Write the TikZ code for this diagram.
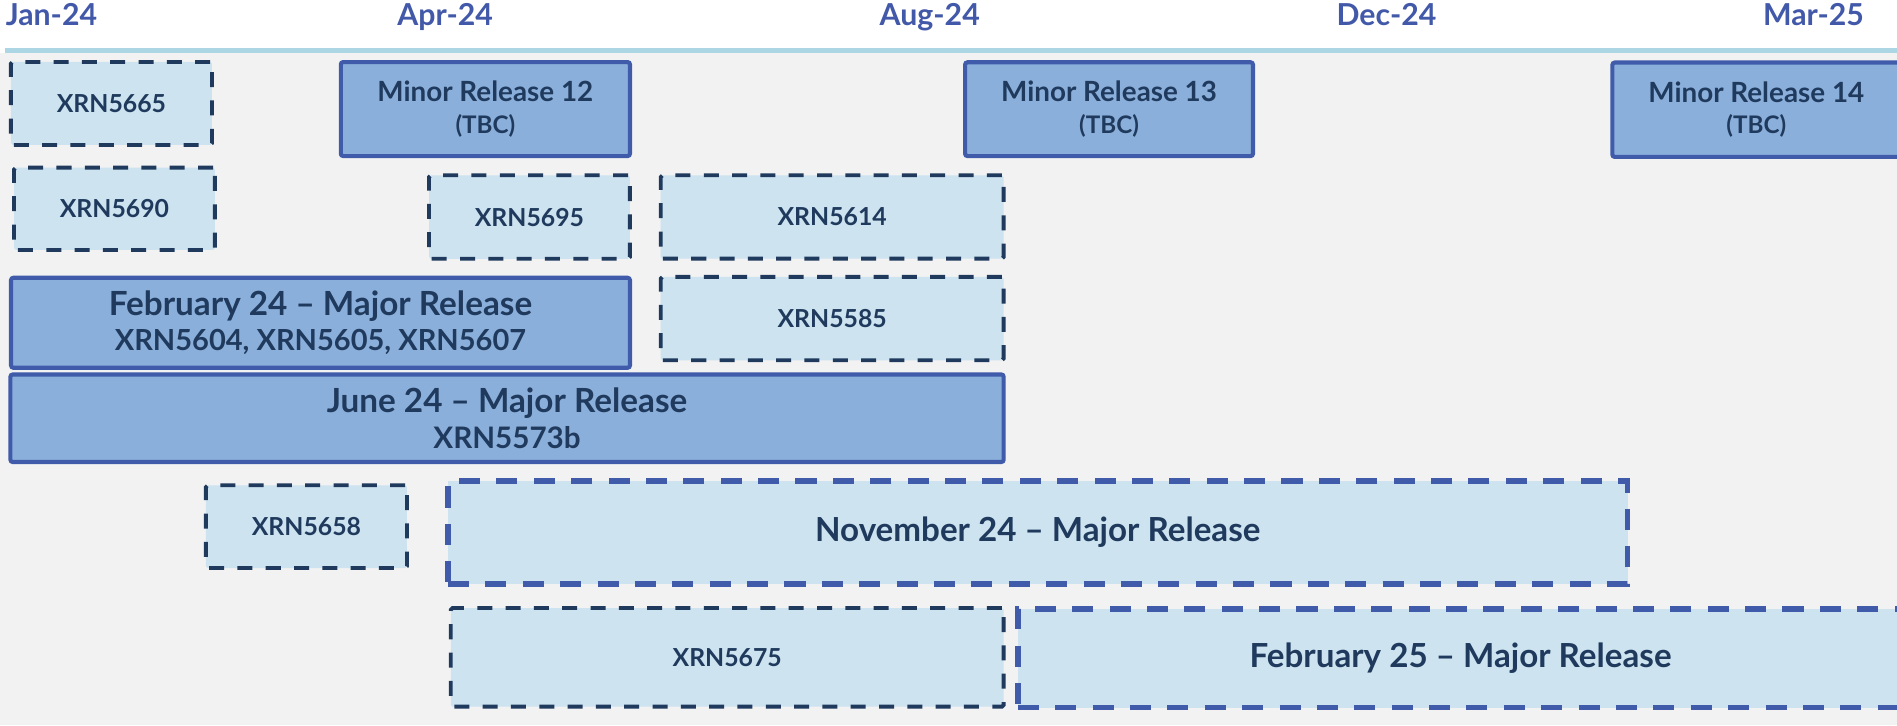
\documentclass[tikz,border=0pt]{standalone}
\usepackage{fontspec}
\setmainfont{Lato}
\definecolor{headblue}{RGB}{66,88,168}
\definecolor{linecol}{RGB}{173,214,228}
\definecolor{bgcol}{RGB}{242,242,242}
\definecolor{lightfill}{RGB}{205,227,240}
\definecolor{navy}{RGB}{31,58,93}
\definecolor{midfill}{RGB}{139,175,219}
\definecolor{bborder}{RGB}{63,91,169}
\newcommand\fsz[2]{\fontsize{#1}{#2}\selectfont}
\tikzset{
  header/.style={text=headblue, font=\fsz{25}{28}\bfseries, anchor=base, inner sep=0pt},
  darkdash/.style={fill=lightfill, draw=navy, line width=3.2pt, dash pattern=on 12.4pt off 11pt,
     rounded corners=1.5pt, anchor=north west, inner sep=0pt, text=navy, font=\fsz{20.5}{24}\bfseries},
  solidbox/.style={fill=midfill, draw=bborder, line width=3.4pt, rounded corners=2pt,
     anchor=north west, inner sep=0pt, text=navy, align=center},
  bluedash/.style={fill=lightfill, draw=bborder, line width=4.6pt, dash pattern=on 17.4pt off 13.5pt,
     anchor=north west, inner sep=0pt, text=navy, font=\fsz{27.4}{30}\bfseries},
  minorbox/.style={solidbox, font=\fsz{23}{26}\bfseries},
  majorbox/.style={solidbox, font=\fsz{27.5}{29}\bfseries}
}
\begin{document}
\begin{tikzpicture}[x=1pt,y=-1pt]
\useasboundingbox (0,0) rectangle (1568,599.3);
\fill[white] (0,0) rectangle (1568,599.3);
\fill[bgcol] (0,43.8) rectangle (1568,599.3);
\draw[linecol, line width=4.1pt] (4,41.7) -- (1568,41.7);
% headers
\node[header] (hjan) at (42.5,20.7) {Jan-24};
\node[header] (hapr) at (368,20.7) {Apr-24};
\node[header] (haug) at (768.5,20.7) {Aug-24};
\node[header] (hdec) at (1146,20.7) {Dec-24};
\node[header] (hmar) at (1499,20.7) {Mar-25};
% row 1
\node[darkdash, minimum width=166.2pt, minimum height=68.6pt] (b1) at (7.4,49.6) {XRN5665};
\node[minorbox, minimum width=239pt, minimum height=77.7pt] (b2) at (280,49.6)
  {Minor Release 12\\{\fsz{20}{22}(TBC)}};
\node[minorbox, minimum width=238pt, minimum height=77.5pt] (b3) at (796,49.8)
  {Minor Release 13\\{\fsz{20}{22}(TBC)}};
\node[minorbox, minimum width=238pt, minimum height=78pt] (b4) at (1331,50)
  {Minor Release 14\\{\fsz{20}{22}(TBC)}};
% row 2
\node[darkdash, minimum width=166pt, minimum height=68pt] (b5) at (10,137) {XRN5690};
\node[darkdash, minimum width=166pt, minimum height=69pt] (b6) at (353,143.3) {XRN5695};
\node[darkdash, minimum width=283.5pt, minimum height=68.9pt] (b7) at (544.5,143.3) {XRN5614};
% row 3
\node[majorbox, minimum width=511.6pt, minimum height=74.4pt] (b8) at (7.4,227.9)
  {February 24 \textendash{} Major Release\\{\fsz{24}{29}XRN5604, XRN5605, XRN5607}};
\node[darkdash, minimum width=283.5pt, minimum height=68.9pt] (b9) at (544.5,227.3) {XRN5585};
% row 4
\node[majorbox, minimum width=821pt, minimum height=72.4pt] (b10) at (6.9,307.8)
  {June 24 \textendash{} Major Release\\{\fsz{24.5}{29}XRN5573b}};
% row 5
\node[darkdash, minimum width=166.2pt, minimum height=68.4pt] (b11) at (168.6,399.5) {XRN5658};
\node[bluedash, minimum width=975pt, minimum height=85pt] (b12) at (368,395.4)
  {November 24 \textendash{} Major Release};
% row 6
\node[darkdash, minimum width=457pt, minimum height=81.5pt] (b13) at (371,501) {XRN5675};
\node[bluedash, minimum width=732pt, minimum height=81.5pt] (b14) at (839,501)
  {February 25 \textendash{} Major Release};
\end{tikzpicture}
\end{document}
